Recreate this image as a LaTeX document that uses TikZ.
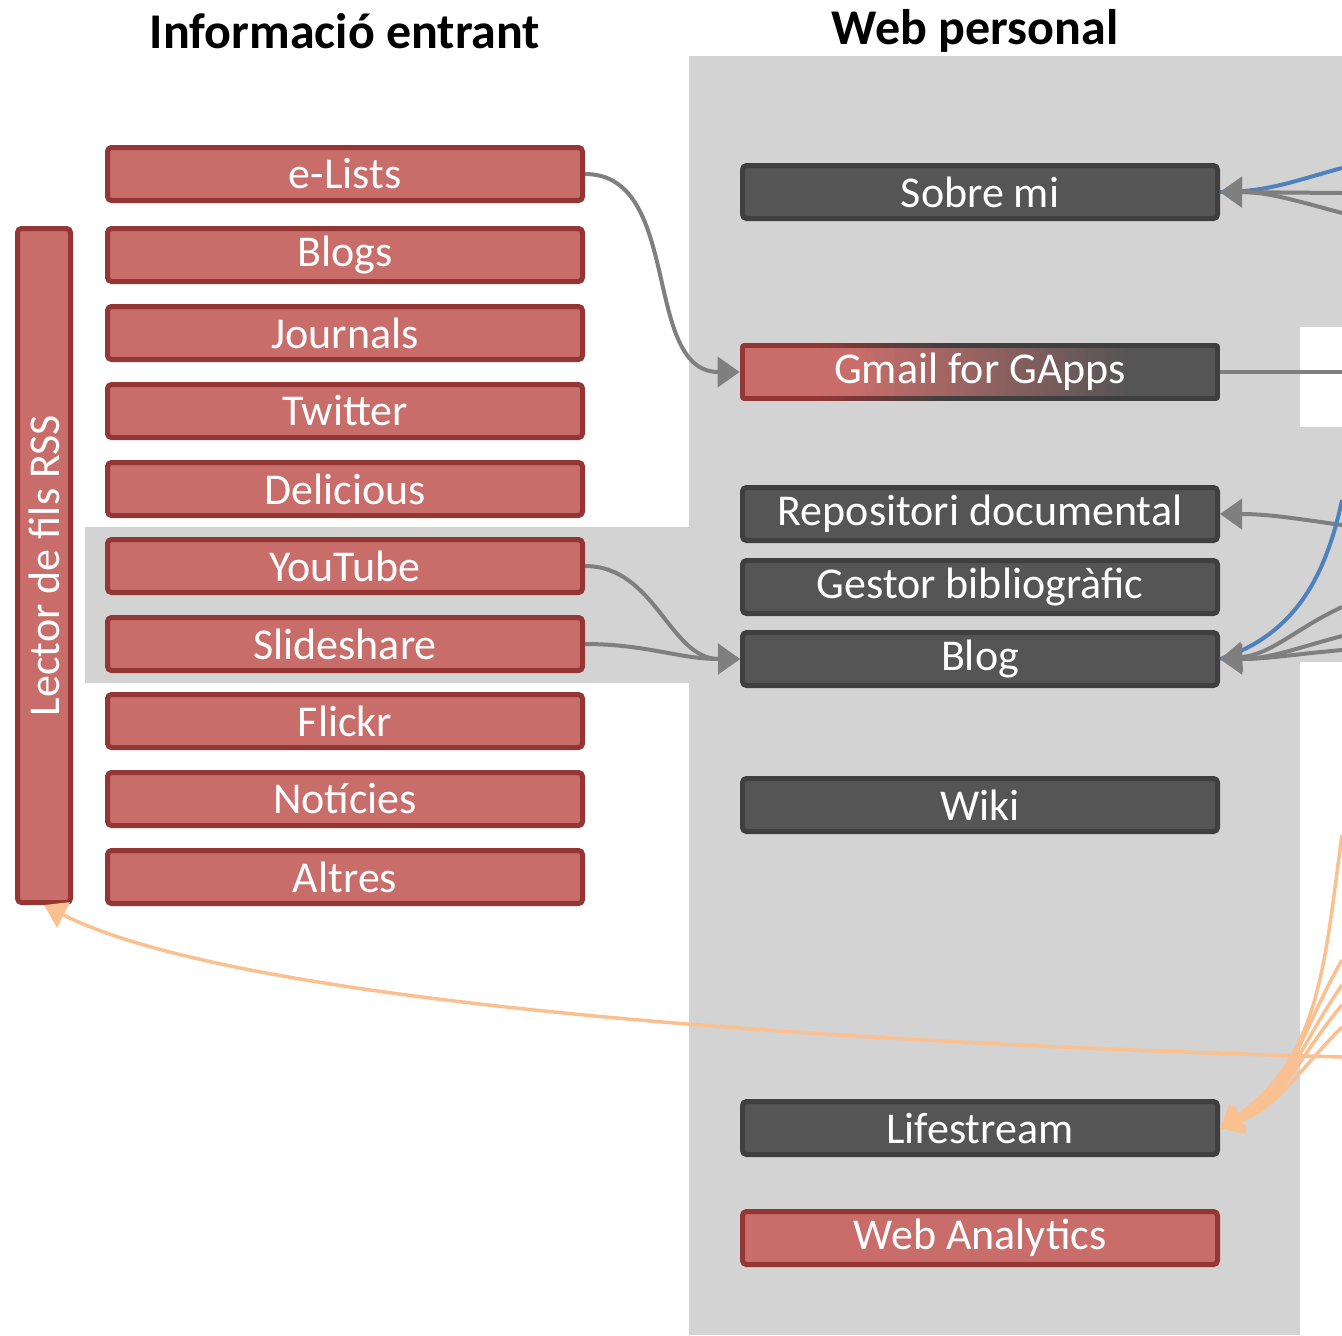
\documentclass[tikz,border=0pt]{standalone}
\usepackage{fontspec}
\usepackage{graphicx}
\setmainfont{Carlito}
\usetikzlibrary{arrows.meta}
\definecolor{boxred}{HTML}{C96D6A}
\definecolor{edgered}{HTML}{943634}
\definecolor{boxdark}{HTML}{555555}
\definecolor{edgedark}{HTML}{3F3F3F}
\definecolor{panelgray}{HTML}{D3D3D3}
\definecolor{linkgray}{HTML}{7F7F7F}
\definecolor{linkblue}{HTML}{4F81BD}
\definecolor{linkorange}{HTML}{FAC090}
\begin{document}
\begin{tikzpicture}[x=0.5pt, y=0.5pt,
		heading/.style={font=\bfseries\fontsize{25}{28}\selectfont},
		redbox/.style={draw=edgered, fill=boxred, line width=2.5pt, rounded corners=2pt, minimum width=237.5pt, minimum height=26.5pt, inner sep=0pt, text=white, font=\fontsize{22}{26}\selectfont},
		darkbox/.style={redbox, draw=edgedark, fill=boxdark},
		gmailbox/.style={rounded corners=2pt, minimum width=240pt, minimum height=29pt, inner sep=0pt, text=white, font=\fontsize{22}{26}\selectfont,
			path picture={
				\foreach \k in {0,...,59} {
					\pgfmathtruncatemacro{\edgemix}{min(100,max(0,(\k/60-0.15)/0.27*100))}
					\fill [sharp corners, edgedark!\edgemix!edgered] ([xshift=\k*4pt]path picture bounding box.south west) rectangle ([xshift=\k*4pt+4.2pt]path picture bounding box.north west);
				}
				\foreach \k in {0,...,46} {
					\pgfmathtruncatemacro{\fillmix}{min(100,max(0,(\k/47-0.22)/0.58*100))}
					\fill [sharp corners, boxdark!\fillmix!boxred] ([xshift=2.5pt+\k*5pt, yshift=2.5pt]path picture bounding box.south west) rectangle ([xshift=2.5pt+\k*5pt+5.2pt, yshift=-2.5pt]path picture bounding box.north west);
				}
			}},
		grayline/.style={draw=linkgray, line width=2pt},
		grayarrow/.style={grayline, -{Triangle[length=11pt,width=15pt]}},
		bluelink/.style={draw=linkblue, line width=2pt},
		orangearrow/.style={draw=linkorange, line width=1.75pt, -{Triangle[length=11pt,width=14pt]}}]
	\useasboundingbox (0,0) rectangle (1342,-1335);
	\fill [panelgray] (689,-56) rectangle (1300,-1335);
	\fill [panelgray] (1300,-56) rectangle (1342,-327);
	\fill [panelgray] (1300,-427) rectangle (1342,-662);
	\fill [panelgray] (85,-527) rectangle (689,-683);
	\node [heading] (intitle) at (345,-31) {Informació entrant};
	\node [heading] (webtitle) at (975,-31) {Web personal};
	\node [redbox] (elists) at (345,-174) {e-Lists};
	\node [redbox] (blogs) at (345,-255) {Blogs};
	\node [redbox] (journals) at (345,-333) {Journals};
	\node [redbox] (twitter) at (345,-411) {Twitter};
	\node [redbox] (delicious) at (345,-489) {Delicious};
	\node [redbox] (youtube) at (345,-566) {YouTube};
	\node [redbox] (slideshare) at (345,-644) {Slideshare};
	\node [redbox] (flickr) at (345,-721) {Flickr};
	\node [redbox] (noticies) at (345,-799) {Notícies};
	\node [redbox] (altres) at (345,-877) {Altres};
	\node [redbox, minimum width=26.5pt, minimum height=337pt] (lector) at (44,-565.5) {\rotatebox{90}{Lector de fils RSS}};
	\node [darkbox] (sobremi) at (980,-192) {Sobre mi};
	\node [gmailbox] (gmail) at (980,-372) {Gmail for GApps};
	\node [darkbox] (repositori) at (980,-514) {Repositori documental};
	\node [darkbox] (gestor) at (980,-587) {Gestor bibliogràfic};
	\node [darkbox] (blog) at (980,-659) {Blog};
	\node [darkbox] (wiki) at (980,-805) {Wiki};
	\node [darkbox] (lifestream) at (980,-1128) {Lifestream};
	\node [redbox] (analytics) at (980,-1238) {Web Analytics};
	\coordinate (sobre-a) at (1342,-168);
	\coordinate (sobre-b) at (1342,-193);
	\coordinate (sobre-c) at (1342,-213);
	\coordinate (gmail-out) at (1342,-372);
	\coordinate (repo-in) at (1342,-525);
	\coordinate (blog-a) at (1342,-500);
	\coordinate (blog-b) at (1342,-607);
	\coordinate (blog-c) at (1342,-636);
	\coordinate (blog-d) at (1342,-650);
	\coordinate (life-a) at (1342,-835);
	\coordinate (life-b) at (1342,-960);
	\coordinate (life-c) at (1342,-985);
	\coordinate (life-d) at (1342,-1005);
	\coordinate (life-e) at (1342,-1027);
	\coordinate (rss-in) at (1342,-1057);
	\draw [grayarrow] (elists.east) to [out=0,in=180] (gmail.west);
	\draw [grayarrow] (youtube.east) to [out=0,in=180] (blog.west);
	\draw [grayarrow] (slideshare.east) to [out=0,in=180] (blog.west);
	\draw [bluelink] (sobre-a) to [out=195,in=0] (sobremi.east);
	\draw [grayarrow] (sobre-c) to [out=165,in=0] (sobremi.east);
	\draw [grayarrow] (sobre-b) -- (sobremi.east);
	\draw [grayline] (gmail.east) -- (gmail-out);
	\draw [grayarrow] (repo-in) to [out=172,in=0] (repositori.east);
	\draw [bluelink] (blog-a) to [out=258,in=18] (blog.east);
	\draw [grayarrow] (blog-b) to [out=205,in=5] (blog.east);
	\draw [grayarrow] (blog-c) to [out=195,in=0] (blog.east);
	\draw [grayarrow] (blog-d) to [out=185,in=0] (blog.east);
	\draw [orangearrow] (life-a) to [out=262,in=35] (lifestream.east);
	\draw [orangearrow] (life-b) to [out=240,in=28] (lifestream.east);
	\draw [orangearrow] (life-c) to [out=235,in=25] (lifestream.east);
	\draw [orangearrow] (life-d) to [out=230,in=22] (lifestream.east);
	\draw [orangearrow] (life-e) to [out=225,in=20] (lifestream.east);
	\draw [orangearrow] (rss-in) .. controls (900,-1045) and (250,-1010) .. (lector.south);
\end{tikzpicture}
\end{document}
